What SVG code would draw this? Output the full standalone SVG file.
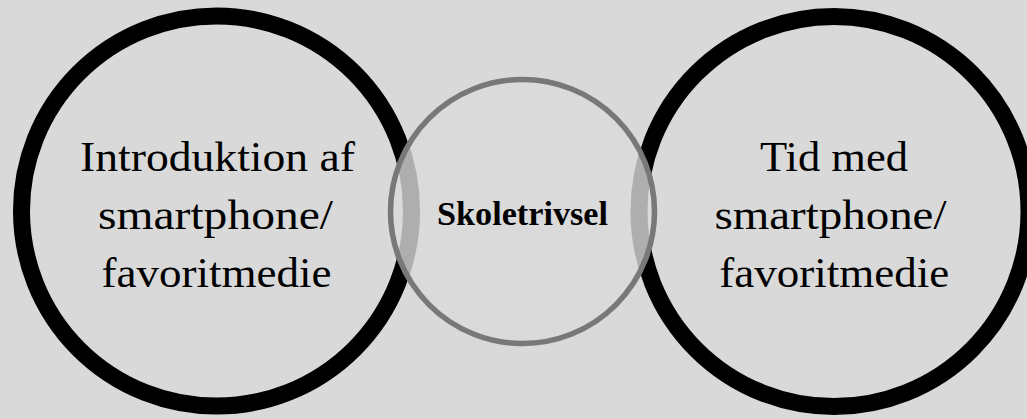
<svg xmlns="http://www.w3.org/2000/svg" width="1027" height="419" viewBox="0 0 1027 419">
  <style>
    .big { fill: none; stroke: #000000; stroke-width: 17; }
    .mid { fill: #d9d9d9; fill-opacity: 0.8; stroke: #787878; stroke-width: 5.5; }
    .lbl { font-family: "Liberation Serif", "Times New Roman", serif; font-size: 43px; fill: #000000; text-anchor: middle; }
    .lblb { font-family: "Liberation Serif", "Times New Roman", serif; font-size: 34px; font-weight: bold; fill: #000000; text-anchor: middle; }
  </style>
  <rect x="0" y="0" width="1027" height="419" fill="#d9d9d9"/>
  <g id="node-left">
    <circle class="big" cx="216.5" cy="211" r="195"/>
  </g>
  <g id="node-right">
    <circle class="big" cx="834" cy="211.5" r="195"/>
  </g>
  <g id="node-center">
    <circle class="mid" cx="522.5" cy="211.5" r="132"/>
    <text class="lblb" x="522.5" y="225" textLength="171" lengthAdjust="spacingAndGlyphs">Skoletrivsel</text>
  </g>
  <g id="node-left-text">
    <text class="lbl" x="217.5" y="171" textLength="275" lengthAdjust="spacingAndGlyphs">Introduktion af</text>
    <text class="lbl" x="215.5" y="229" textLength="235" lengthAdjust="spacingAndGlyphs">smartphone/</text>
    <text class="lbl" x="216.5" y="287" textLength="230" lengthAdjust="spacingAndGlyphs">favoritmedie</text>
  </g>
  <g id="node-right-text">
    <text class="lbl" x="834" y="171" textLength="148" lengthAdjust="spacingAndGlyphs">Tid med</text>
    <text class="lbl" x="830.5" y="229" textLength="232" lengthAdjust="spacingAndGlyphs">smartphone/</text>
    <text class="lbl" x="834.3" y="286.5" textLength="230" lengthAdjust="spacingAndGlyphs">favoritmedie</text>
  </g>
  <g id="connectors"/>
</svg>
